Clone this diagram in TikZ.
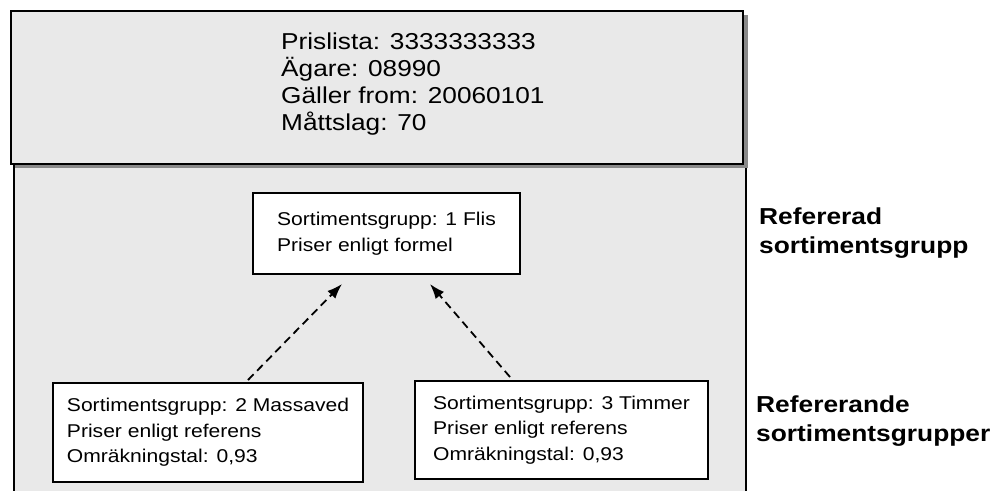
\documentclass[tikz,border=0pt]{standalone}
\usepackage{fontspec}
\setmainfont{Liberation Sans}[FakeStretch=1.14]
\usetikzlibrary{arrows.meta, positioning}
\definecolor{panelgray}{HTML}{E9E9E9}
\definecolor{shadowgray}{HTML}{8A8A8A}

\begin{document}
\begin{tikzpicture}[x=1pt, y=-1pt,
  headbox/.style={draw, line width=2.4pt, fill=panelgray, rectangle, inner sep=0pt,
    minimum width=732pt, minimum height=153pt},
  groupbox/.style={draw, line width=2pt, fill=white, rectangle, align=left, inner sep=0pt,
    font=\fontsize{18.5}{25.5}\selectfont},
  grouplabel/.style={align=left, inner sep=0pt, anchor=north west,
    font=\fontsize{23.1}{29}\selectfont\bfseries},
  refarrow/.style={-{Latex[length=15pt,width=11pt]}, line width=1.8pt, dash pattern=on 8pt off 5pt}]
  \useasboundingbox (0,0) rectangle (993,491);
  % lower panel
  \fill[panelgray] (14,163) rectangle (747,491);
  \draw[line width=1.8pt] (14,163) -- (14,491) (746,163) -- (746,491);
  % price list head with its shadow
  \fill[shadowgray] (15,15) rectangle (748,168);
  \node[headbox, anchor=north west] (header) at (10,10) {};
  \node[anchor=north west, inner sep=0pt, align=left, font=\fontsize{23}{27}\selectfont] (info) at (281,33)
    {Prislista: 3333333333\\Ägare: 08990\\Gäller from: 20060101\\Måttslag: 70};
  % groups
  \node[groupbox, minimum width=267pt, minimum height=81pt] (flis) at (386.5,233.5)
    {Sortimentsgrupp: 1 Flis\\Priser enligt formel};
  \node[groupbox, minimum width=310pt, minimum height=99pt] (massa) at (208,432.5)
    {Sortimentsgrupp: 2 Massaved\\Priser enligt referens\\Omräkningstal: 0,93};
  \node[groupbox, minimum width=293pt, minimum height=98pt] (timmer) at (561.5,430)
    {Sortimentsgrupp: 3 Timmer\\Priser enligt referens\\Omräkningstal: 0,93};
  \draw[refarrow] ([xshift=40pt,yshift=2pt]massa.north) -- ([xshift=-44.5pt,yshift=-9pt]flis.south);
  \draw[refarrow] ([xshift=-51.5pt,yshift=3pt]timmer.north) -- ([xshift=43.5pt,yshift=-9pt]flis.south);
  % labels
  \node[grouplabel] (refd) at (759,208) {Refererad\\sortimentsgrupp};
  \node[grouplabel] (refnd) at (756,396) {Refererande\\sortimentsgrupper};
\end{tikzpicture}
\end{document}
